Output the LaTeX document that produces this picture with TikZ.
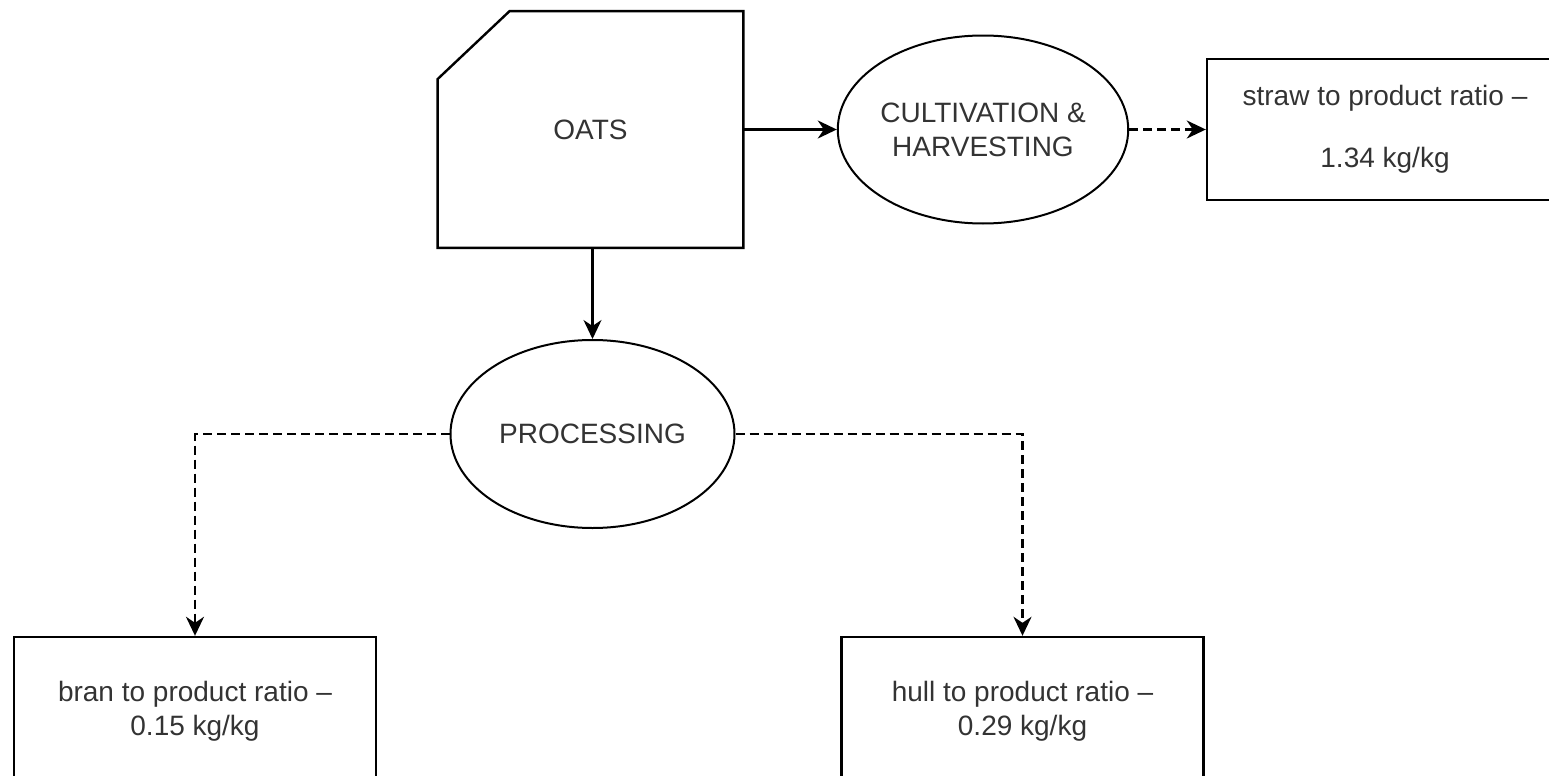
\documentclass[tikz,border=0pt]{standalone}
\usepackage{fontspec}
\setmainfont{Liberation Sans}
\usetikzlibrary{shapes.geometric, arrows.meta}

\begin{document}
\begin{tikzpicture}[x=0.5pt, y=-0.5pt,
    every node/.style = {align=center, text=black!80, font=\fontsize{14}{17}\selectfont},
    stage/.style = {shape=ellipse, draw, line width=1pt, minimum width=142pt, minimum height=94pt, inner sep=0pt},
    ratio/.style = {shape=rectangle, draw, line width=1.2pt, minimum width=181pt, minimum height=74pt},
    flow/.style = {line width=1.1pt, -{Stealth[length=9.5pt, width=9pt, inset=3pt]}},
    byproduct/.style = {flow, dash pattern=on 4.5pt off 2.5pt}]

    \useasboundingbox (0,0) rectangle (1549,776);
    \clip (0,0) rectangle (1549,776);

    % crop card and the two stages
    \node[minimum width=152.5pt, minimum height=118pt] (oats) at (590.5,129.5) {OATS};
    \draw[line width=1.2pt] ([yshift=-34pt]oats.north west) -- ([xshift=36pt]oats.north west) -- (oats.north east) -- (oats.south east) -- (oats.south west) -- cycle;
    \node[stage] (cult) at (983,129.5) {CULTIVATION \&\\HARVESTING};
    \node[stage] (proc) at (592.5,434) {PROCESSING};

    % residue ratios
    \node[ratio, minimum width=178pt, minimum height=70.5pt] (straw) at (1385,129.5) {straw to product ratio –\\[14pt]1.34 kg/kg};
    \node[ratio] (bran) at (195,711) {bran to product ratio –\\0.15 kg/kg};
    \node[ratio] (hull) at (1022.5,711) {hull to product ratio –\\0.29 kg/kg};

    \draw[flow] (oats) -- (cult);
    \draw[flow] (oats.south -| proc.north) -- (proc.north);
    \draw[byproduct] (cult) -- (straw);
    \draw[byproduct] (proc.west) -| (bran.north);
    \draw[byproduct] (proc.east) -| (hull.north);
\end{tikzpicture}
\end{document}
